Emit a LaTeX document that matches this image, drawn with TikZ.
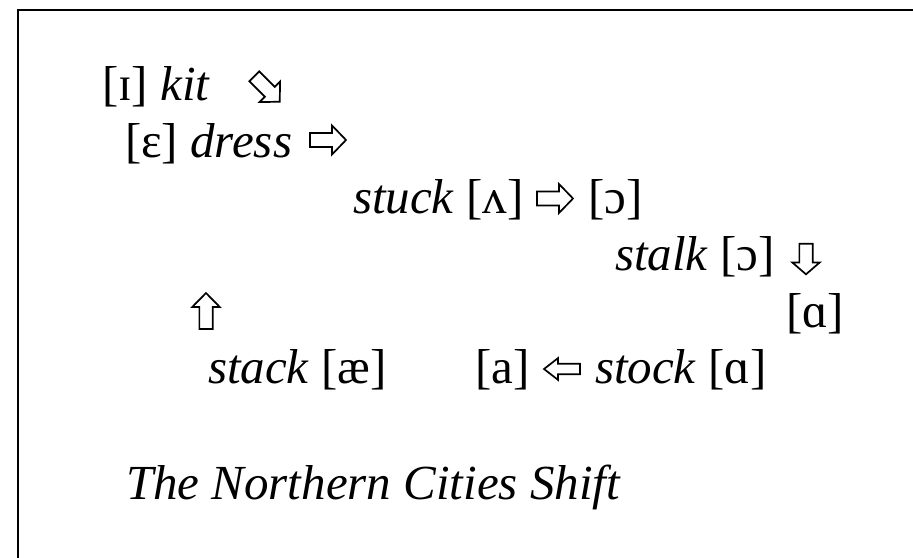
\documentclass[tikz,border=0pt]{standalone}
\usepackage{fontspec}
\setmainfont{Liberation Serif}
\begin{document}
\begin{tikzpicture}[x=1pt,y=-1pt,
  lbl/.style={anchor=base west,inner sep=0pt,outer sep=0pt,font=\fontsize{49}{58}\selectfont},
  frame/.style={line width=1.8pt},
  pics/warrow/.style={code={
    \draw[line width=1.7pt,line join=miter,fill=white]
      (-18,-7) -- (4,-7) -- (4,-14.5) -- (18,0) -- (4,14.5) -- (4,7) -- (-18,7) -- cycle;}}]
\useasboundingbox (0,0) rectangle (913,557);
\fill[white] (0,0) rectangle (913,557);
% frame (only top and left sides visible)
\coordinate (fbl) at (18,558);
\coordinate (ftl) at (18,10);
\coordinate (ftr) at (914,10);
\draw[frame] (fbl) -- (ftl) -- (ftr);
% texts
\node[lbl] (kit)   at (102,100) {[ɪ] \textit{kit}};
\node[lbl] (dress) at (125,157) {[ɛ] \textit{dress}};
\node[lbl] (stuck) at (353,213) {\textit{stuck} [ʌ]};
\node[lbl] (oa)    at (588,213) {[ɔ]};
\node[lbl] (stalk) at (615,270) {\textit{stalk} [ɔ]};
\node[lbl] (aa)    at (786,327) {[ɑ]};
\node[lbl] (stack) at (208,383) {\textit{stack} [æ]};
\node[lbl] (fa)    at (475,383) {[a]};
\node[lbl] (stock) at (595,383) {\textit{stock} [ɑ]};
\node[lbl] (title) at (126,499) {\textit{The Northern Cities Shift}};
% white arrows
\coordinate (a1) at (267,89);
\coordinate (a2) at (328,140);
\coordinate (a3) at (555,198.5);
\coordinate (a4) at (806,259);
\coordinate (a5) at (206,311);
\coordinate (a6) at (562,369);
\pic[rotate=-45] at (a1) {warrow};
\pic at (a2) {warrow};
\pic at (a3) {warrow};
\pic[rotate=-90,xscale=.85,yscale=.95] at (a4) {warrow};
\pic[rotate=90,yscale=.95] at (a5) {warrow};
\pic[rotate=180,yscale=.75] at (a6) {warrow};
\end{tikzpicture}
\end{document}
